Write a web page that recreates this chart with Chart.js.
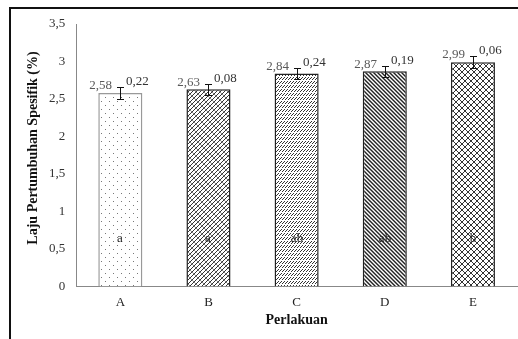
<!DOCTYPE html>
<html>
<head>
<meta charset="utf-8">
<script src="https://cdn.jsdelivr.net/npm/chart.js@4"></script>
<style>
body{margin:0;background:#fff;}
#wrap{width:518px;height:339px;}
</style>
</head>
<body>
<div id="wrap"><canvas id="grafico" width="518" height="339"></canvas></div>
<script>
// datos
const perlakuan = ["A", "B", "C", "D", "E"];
const laju = [2.58, 2.63, 2.84, 2.87, 2.99];
const sd = [0.22, 0.08, 0.24, 0.19, 0.06];
const errVisible = [0.085, 0.075, 0.075, 0.075, 0.08];
const huruf = ["a", "a", "ab", "ab", "b"];
const ticksY = [0, 0.5, 1, 1.5, 2, 2.5, 3, 3.5];

function koma(v){
    return String(v).replace(".", ",");
}
function koma2(v){
    return v.toFixed(2).replace(".", ",");
}

// patrones
function patron(w, h, dibujar){
    let c = document.createElement("canvas");
    c.width = w; c.height = h;
    let g = c.getContext("2d");
    g.fillStyle = "#fff";
    g.fillRect(0, 0, w, h);
    dibujar(g);
    return document.getElementById("grafico").getContext("2d").createPattern(c, "repeat");
}
let patA = patron(8, 8, function(g){
    g.fillStyle = "#777";
    g.fillRect(1, 1, 1, 1);
    g.fillRect(5, 5, 1, 1);
});
let patB = patron(8, 8, function(g){
    g.strokeStyle = "#333"; g.lineWidth = 1;
    g.beginPath(); g.moveTo(0, 8); g.lineTo(8, 0); g.stroke();
    g.beginPath(); g.moveTo(-4, 8); g.lineTo(4, 0); g.stroke();
    g.beginPath(); g.moveTo(4, 8); g.lineTo(12, 0); g.stroke();
    g.strokeStyle = "#888";
    g.beginPath(); g.moveTo(0, 0); g.lineTo(8, 8); g.stroke();
});
let patC = patron(3, 4, function(g){
    g.fillStyle = "#333";
    g.fillRect(2, 1, 1, 1);
    g.fillRect(1, 2, 1, 1);
    g.fillRect(0, 3, 1, 1);
});
let patD = patron(4, 4, function(g){
    g.fillStyle = "#222";
    g.beginPath(); g.moveTo(0, 0); g.lineTo(2, 0); g.lineTo(4, 2); g.lineTo(4, 4); g.closePath(); g.fill();
    g.beginPath(); g.moveTo(0, 2); g.lineTo(2, 4); g.lineTo(0, 4); g.closePath(); g.fill();
});
let patE = patron(6, 6, function(g){
    g.strokeStyle = "#333"; g.lineWidth = 1;
    g.beginPath(); g.moveTo(0, 0); g.lineTo(6, 6); g.stroke();
    g.beginPath(); g.moveTo(6, 0); g.lineTo(0, 6); g.stroke();
});

const marco = {
    id: "marco",
    beforeDraw(chart){
        let ctx = chart.ctx;
        ctx.save();
        ctx.fillStyle = "#fff";
        ctx.fillRect(0, 0, chart.width, chart.height);
        ctx.strokeStyle = "#111";
        ctx.lineWidth = 2;
        ctx.beginPath();
        ctx.moveTo(10, chart.height);
        ctx.lineTo(10, 8);
        ctx.lineTo(chart.width, 8);
        ctx.stroke();
        ctx.restore();
    },
    afterDraw(chart){
        let ctx = chart.ctx;
        let area = chart.chartArea;
        ctx.save();
        ctx.fillStyle = "#111";
        ctx.font = "bold 14px 'Liberation Serif'";
        ctx.textAlign = "center";
        ctx.textBaseline = "middle";
        ctx.fillText("Perlakuan", (area.left + area.right) / 2, 320);
        ctx.translate(33, 148);
        ctx.rotate(-Math.PI / 2);
        ctx.fillText("Laju Pertumbuhan Spesifik (%)", 0, 0);
        ctx.restore();
    }
};

const etiquetas = {
    id: "etiquetas",
    afterDatasetsDraw(chart){
        let ctx = chart.ctx;
        let y = chart.scales.y;
        let meta = chart.getDatasetMeta(0);
        ctx.save();
        meta.data.forEach(function(bar, i){
            let x = Math.round(bar.x);
            let yTop = Math.round(y.getPixelForValue(laju[i] + errVisible[i]));
            let yBot = Math.round(y.getPixelForValue(laju[i] - errVisible[i]));
            ctx.strokeStyle = "#111";
            ctx.lineWidth = 1;
            ctx.beginPath();
            ctx.moveTo(x + 0.5, yTop); ctx.lineTo(x + 0.5, yBot);
            ctx.moveTo(x - 3, yTop + 0.5); ctx.lineTo(x + 4, yTop + 0.5);
            ctx.moveTo(x - 3, yBot + 0.5); ctx.lineTo(x + 4, yBot + 0.5);
            ctx.stroke();

            ctx.font = "13px 'Liberation Serif'";
            ctx.textBaseline = "middle";
            ctx.fillStyle = "#595959";
            ctx.textAlign = "right";
            ctx.fillText(koma2(laju[i]), x - 8, yTop - 1);
            ctx.fillStyle = "#333";
            ctx.textAlign = "left";
            ctx.fillText(koma2(sd[i]), x + 6, yTop - 5);

            ctx.fillStyle = "#222";
            ctx.textAlign = "center";
            ctx.fillText(huruf[i], x, y.getPixelForValue(0.64));
        });
        ctx.restore();
    }
};

window.onload = function(){
    let ctx = document.getElementById("grafico").getContext("2d");
    let grafico = new Chart(ctx, {
        type: "bar",
        data: {
            labels: perlakuan,
            datasets: [{
                data: laju,
                backgroundColor: [patA, patB, patC, patD, patE],
                borderColor: ["#999", "#222", "#222", "#222", "#222"],
                borderWidth: 1.5,
                borderSkipped: "bottom",
                categoryPercentage: 1,
                barPercentage: 0.5
            }]
        },
        options: {
            responsive: false,
            animation: false,
            layout: {padding: {left: 38, top: 24, right: 1, bottom: 21}},
            plugins: {legend: {display: false}, tooltip: {enabled: false}},
            scales: {
                x: {
                    grid: {display: false, drawTicks: false},
                    border: {color: "#888", width: 1},
                    ticks: {color: "#222", padding: 8, font: {family: "Liberation Serif", size: 13}}
                },
                y: {
                    min: 0,
                    max: 3.5,
                    afterBuildTicks(axis){ axis.ticks = ticksY.map(v => ({value: v})); },
                    grid: {display: false, drawTicks: false},
                    border: {color: "#888", width: 1},
                    ticks: {color: "#333", padding: 11, font: {family: "Liberation Serif", size: 13}, callback: v => koma(v)}
                }
            }
        },
        plugins: [marco, etiquetas]
    });
};
</script>
</body>
</html>
